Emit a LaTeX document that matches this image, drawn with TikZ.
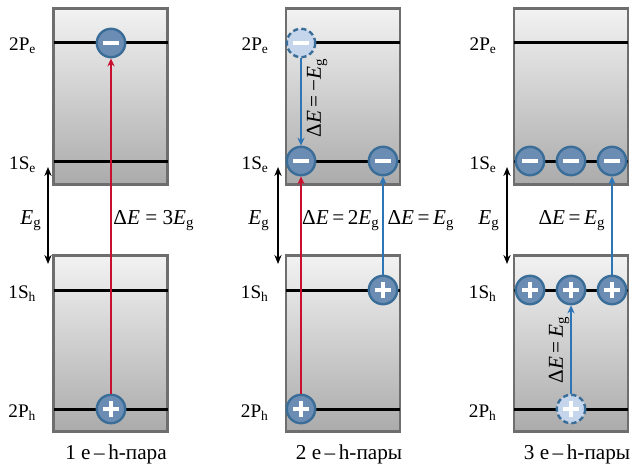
\documentclass[tikz,border=0pt]{standalone}
\usepackage{fontspec}
\setmainfont{Liberation Serif}
\usetikzlibrary{arrows.meta,positioning}
\definecolor{dotfill}{HTML}{6C8DB3}
\definecolor{dotedge}{HTML}{3A6E98}
\definecolor{ghostfill}{HTML}{C5D5EB}
\definecolor{arred}{HTML}{C8102E}
\definecolor{arblue}{HTML}{2E75B6}
\definecolor{bandedge}{HTML}{6E6E6E}
\newcommand{\Eg}{\textit{E}\textsubscript{g}}
\newcommand{\dE}{Δ\textit{E}}
\tikzset{
  band/.style  = {draw=bandedge, line width=1.3pt, top color=black!5,
                  bottom color=black!33, minimum width=57pt,
                  minimum height=88pt, inner sep=0pt},
  lvl/.style   = {line width=1.5pt},
  dot/.style   = {circle, draw=dotedge, fill=dotfill, line width=1.2pt,
                  minimum size=14.2pt, inner sep=0pt},
  elec/.style  = {dot, path picture={\fill[white]
                  ([shift={(-4.2pt,-1.1pt)}]path picture bounding box.center)
                  rectangle ++(8.4pt,2.2pt);}},
  hole/.style  = {dot, path picture={\fill[white]
                  ([shift={(-3.9pt,-1.1pt)}]path picture bounding box.center)
                  rectangle ++(7.8pt,2.2pt);
                  \fill[white]
                  ([shift={(-1.1pt,-3.9pt)}]path picture bounding box.center)
                  rectangle ++(2.2pt,7.8pt);}},
  ghost/.style = {fill=ghostfill, dash pattern=on 2.6pt off 1.6pt},
  redar/.style = {-{Stealth[length=4pt,width=3.6pt]}, line width=1.2pt, draw=arred},
  bluear/.style= {-{Stealth[length=4pt,width=3.6pt]}, line width=1.2pt, draw=arblue},
  gapar/.style = {{Stealth[length=4.5pt,width=3.6pt]}-{Stealth[length=4.5pt,width=3.6pt]},
                  line width=1.1pt},
  lvllbl/.style= {anchor=base east, font=\fontsize{9.6}{11}\selectfont},
  lbl/.style   = {anchor=base}
}
\begin{document}
\begin{tikzpicture}[x=0.5pt, y=-0.5pt, font=\fontsize{10.6}{12}\selectfont]
  \useasboundingbox (0,0) rectangle (640,465);
  % bands
  \node[band] (cb1) at (110.5,96.5)  {};
  \node[band] (vb1) at (110.5,343.5) {};
  \node[band] (cb2) at (343,96.5)    {};
  \node[band] (vb2) at (343,343.5)   {};
  \node[band] (cb3) at (571,96.5)    {};
  \node[band] (vb3) at (571,343.5)   {};
  % levels and their names
  \foreach \bx in {110.5,343,571} {
    \foreach \ly in {43,161,290,409}
      \draw[lvl] (\bx-57,\ly) -- (\bx+57,\ly);
    \node[lvllbl] at (\bx-67,51) {2P\textsubscript{e}};
    \node[lvllbl] at (\bx-67,169) {1S\textsubscript{e}};
    \node[lvllbl] at (\bx-67,298) {1S\textsubscript{h}};
    \node[lvllbl] at (\bx-67,417) {2P\textsubscript{h}};
  }
  % gap arrows
  \coordinate (gt1) at (48,167);  \coordinate (gb1) at (48,264);
  \coordinate (gt2) at (278,167); \coordinate (gb2) at (278,264);
  \coordinate (gt3) at (507,167); \coordinate (gb3) at (507,264);
  \draw[gapar] (gt1) -- (gb1);
  \draw[gapar] (gt2) -- (gb2);
  \draw[gapar] (gt3) -- (gb3);
  \node[lbl] (eg1) at (31,224)  {\Eg};
  \node[lbl] (eg2) at (259,224) {\Eg};
  \node[lbl] (eg3) at (489,224) {\Eg};

  % panel 1
  \node[elec] (e1) at (111,43)  {};
  \node[hole] (h1) at (111,409) {};
  \draw[redar] (h1) -- (e1);
  \node[lbl] (d1) at (154,224) {\dE{} = 3\Eg};

  % panel 2
  \node[elec, ghost] (g2) at (301,43) {};
  \node[elec] (e2a) at (301,161) {};
  \node[elec] (e2b) at (383,161) {};
  \node[hole] (h2a) at (301,409) {};
  \node[hole] (h2b) at (383,290) {};
  \draw[bluear] (g2)  -- (e2a);
  \draw[redar]  (h2a) -- (e2a);
  \draw[bluear] (h2b) -- (e2b);
  \node[rotate=90] (d2v) at (317,98) {\dE\,=\,−\Eg};
  \node[lbl] (d2a) at (341,224) {\dE\,=\,2\Eg};
  \node[lbl] (d2b) at (421,224) {\dE\,=\,\Eg};

  % panel 3
  \node[elec] (e3a) at (530,161) {};
  \node[elec] (e3b) at (571,161) {};
  \node[elec] (e3c) at (612,161) {};
  \node[hole] (h3a) at (530,290) {};
  \node[hole] (h3b) at (571,290) {};
  \node[hole] (h3c) at (612,290) {};
  \node[hole, ghost] (g3) at (571,409) {};
  \draw[bluear] (g3)  -- (h3b);
  \draw[bluear] (h3c) -- (e3c);
  \node[rotate=90] (d3v) at (559,350) {\dE\,=\,\Eg};
  \node[lbl] (d3) at (572,224) {\dE\,=\,\Eg};

  % captions
  \node[lbl] (cap1) at (116,459) {1 e\,–\,h-пара};
  \node[lbl] (cap2) at (349,459) {2 e\,–\,h-пары};
  \node[lbl] (cap3) at (577,459) {3 e\,–\,h-пары};
\end{tikzpicture}
\end{document}
